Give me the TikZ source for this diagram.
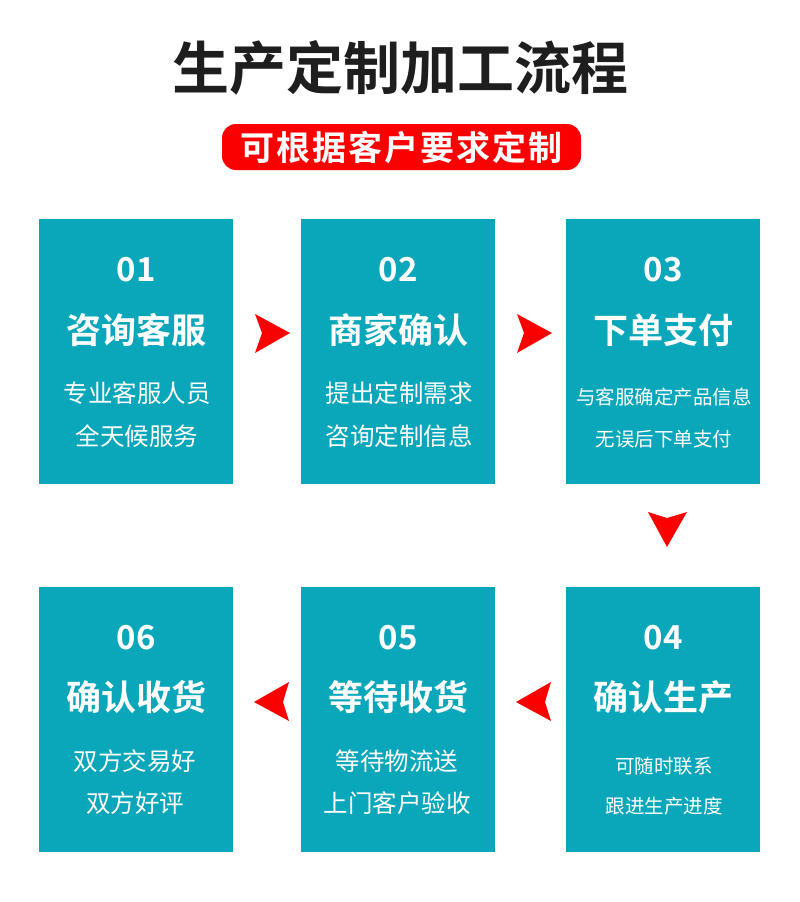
\documentclass[tikz,border=0pt]{standalone}
\usepackage{fontspec}
\setmainfont{Noto Sans CJK SC}
\newfontfamily\cjkb{Noto Sans CJK SC Bold}
\newfontfamily\cjkbs[LetterSpace=6]{Noto Sans CJK SC Bold}
\definecolor{teal1}{HTML}{0AA6BA}
\definecolor{red1}{HTML}{FA0000}
\definecolor{dark1}{HTML}{1E1E1E}
\tikzset{
  card/.style={fill=teal1, draw=none, minimum width=194pt, minimum height=265pt, inner sep=0pt},
  num/.style={text=white, font=\cjkb\fontsize{33}{33}\selectfont},
  ttl/.style={text=white, font=\cjkb\fontsize{35}{35}\selectfont},
  dsc/.style={text=white, font=\fontsize{24.5}{24.5}\selectfont},
  dsm/.style={text=white, font=\fontsize{19.5}{19.5}\selectfont},
  arr/.style={fill=red1, draw=none}
}
\begin{document}
\begin{tikzpicture}[x=1pt,y=-1pt]
\useasboundingbox (0,0) rectangle (800,902);
\node[text=dark1, font=\cjkb\fontsize{57}{57}\selectfont] (title) at (400,68) {生产定制加工流程};
\node[fill=red1, rounded corners=14pt, minimum width=359pt, minimum height=46pt, inner sep=0pt, text=white, font=\cjkbs\fontsize{34}{34}\selectfont] (sub) at (401.5,147) {可根据客户要求定制};
% row 1
\node[card] (b1) at (136,351.5) {};
\node[card] (b2) at (398,351.5) {};
\node[card] (b3) at (663,351.5) {};
% row 2
\node[card] (b6) at (136,719.5) {};
\node[card] (b5) at (398,719.5) {};
\node[card] (b4) at (663,719.5) {};
% box 1
\node[num] (n1) at (136,270) {01};
\node[ttl] (t1) at (136,330) {咨询客服};
\node[dsc] (d1a) at (137,393) {专业客服人员};
\node[dsc] (d1b) at (137,436) {全天候服务};
% box 2
\node[num] (n2) at (398,270) {02};
\node[ttl] (t2) at (398,330) {商家确认};
\node[dsc] (d2a) at (399,393) {提出定制需求};
\node[dsc] (d2b) at (399,436) {咨询定制信息};
% box 3
\node[num] (n3) at (663,270) {03};
\node[ttl] (t3) at (663,330) {下单支付};
\node[dsm] (d3a) at (664,397) {与客服确定产品信息};
\node[dsm] (d3b) at (664,439) {无误后下单支付};
% box 4
\node[num] (n4) at (663,638) {04};
\node[ttl] (t4) at (663,697) {确认生产};
\node[dsm] (d4a) at (664,766) {可随时联系};
\node[dsm] (d4b) at (664,806) {跟进生产进度};
% box 5
\node[num] (n5) at (398,638) {05};
\node[ttl] (t5) at (398,697) {等待收货};
\node[dsc] (d5a) at (397,761) {等待物流送};
\node[dsc] (d5b) at (397,803) {上门客户验收};
% box 6
\node[num] (n6) at (136,638) {06};
\node[ttl] (t6) at (136,697) {确认收货};
\node[dsc] (d6a) at (135,761) {双方交易好};
\node[dsc] (d6b) at (135,803) {双方好评};
% arrows
\fill[arr] (255,314) -- (290,333) -- (255,353) -- (262,333) -- cycle;
\fill[arr] (517,314) -- (552,333) -- (517,353) -- (524,333) -- cycle;
\fill[arr] (648,512) -- (667,518) -- (687,512) -- (667,547) -- cycle;
\fill[arr] (289,682) -- (254,702) -- (289,721) -- (283,702) -- cycle;
\fill[arr] (551,682) -- (516,702) -- (551,721) -- (545,702) -- cycle;
\end{tikzpicture}
\end{document}
